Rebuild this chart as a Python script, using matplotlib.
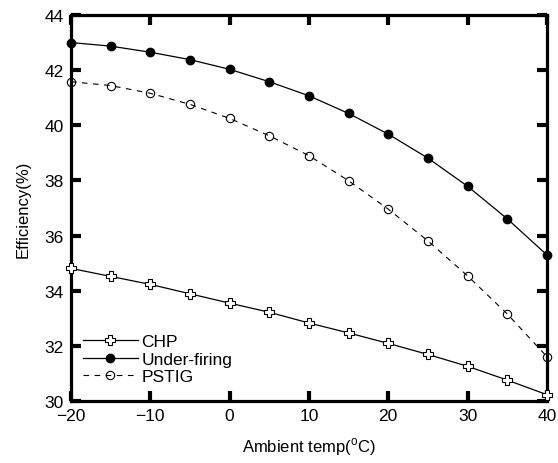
import matplotlib
matplotlib.use("Agg")
import matplotlib.pyplot as plt

plt.rcParams['font.family'] = ['Liberation Sans', 'DejaVu Sans']
plt.rcParams['mathtext.fontset'] = 'custom'
plt.rcParams['mathtext.rm'] = 'Liberation Sans'

temps = [-20, -15, -10, -5, 0, 5, 10, 15, 20, 25, 30, 35, 40]
chp = [34.81, 34.52, 34.23, 33.89, 33.55, 33.22, 32.83, 32.47, 32.09, 31.69, 31.26, 30.76, 30.23]
under_firing = [43.0, 42.87, 42.65, 42.38, 42.03, 41.58, 41.07, 40.43, 39.68, 38.81, 37.79, 36.61, 35.30]
pstig = [41.58, 41.44, 41.16, 40.76, 40.25, 39.62, 38.90, 37.99, 36.96, 35.81, 34.54, 33.16, 31.61]

fig = plt.figure(figsize=(5.58, 4.64), dpi=100)
ax = fig.add_axes([0.127, 0.1336, 0.853, 0.832])

ax.plot(temps, chp, '-', color='black', lw=0.9, marker='P', ms=6.5,
        mfc='white', mec='black', mew=0.8, label='CHP', clip_on=False, zorder=3)
ax.plot(temps, under_firing, '-', color='black', lw=0.9, marker='o', ms=6,
        mfc='black', mec='black', label='Under-firing', clip_on=False, zorder=3)
ax.plot(temps, pstig, '--', color='black', lw=0.8, marker='o', ms=6,
        mfc='none', mec='black', mew=0.8, label='PSTIG', clip_on=False, zorder=3,
        dashes=(5, 5))

ax.set_xlim(-20, 40)
ax.set_ylim(30, 44)
ax.set_xticks([-20, -10, 0, 10, 20, 30, 40])
ax.set_yticks([30, 32, 34, 36, 38, 40, 42, 44])
ax.tick_params(direction='in', length=7, width=3, top=True, right=True,
               labelsize=12.5, pad=5)
ax.tick_params(axis='x', labeltop=False)
for s in ax.spines.values():
    s.set_linewidth(2.3)

ax.set_xlabel(r'Ambient temp($^{\rm o}$C)', fontsize=12, labelpad=9)
ax.set_ylabel('Efficiency(%)', fontsize=12, labelpad=10)

ax.legend(loc='lower left', bbox_to_anchor=(0.01, 0.025), frameon=False,
          fontsize=12.5, handlelength=3.2, handletextpad=0.2, labelspacing=0.15,
          borderaxespad=0)

fig.savefig('out.png', dpi=100)
